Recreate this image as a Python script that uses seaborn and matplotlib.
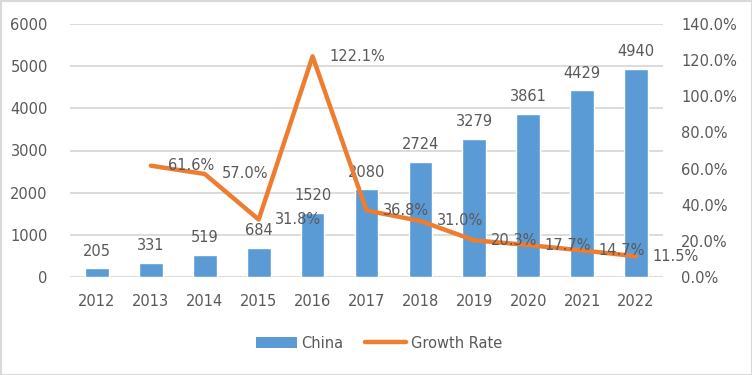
import matplotlib
matplotlib.use("Agg")
import matplotlib.pyplot as plt
import seaborn as sns
import pandas as pd
import numpy as np
from matplotlib.patches import Rectangle, Patch
from matplotlib.lines import Line2D

years = [2012, 2013, 2014, 2015, 2016, 2017, 2018, 2019, 2020, 2021, 2022]
china = [205, 331, 519, 684, 1520, 2080, 2724, 3279, 3861, 4429, 4940]
rate_years = [2013, 2014, 2015, 2016, 2017, 2018, 2019, 2020, 2021, 2022]
growth = [61.6, 57.0, 31.8, 122.1, 36.8, 31.0, 20.3, 17.7, 14.7, 11.5]
left_ticks = [0, 1000, 2000, 3000, 4000, 5000, 6000]
right_ticks = [0, 20, 40, 60, 80, 100, 120, 140]

BAR = "#5B9BD5"
LINE = "#ED7D31"
TXT = "#595959"
GRID = "#D9D9D9"

sns.set_style("white")
plt.rcParams['font.family'] = ['DejaVu Sans']
plt.rcParams['font.size'] = 10

fig = plt.figure(figsize=(7.52, 3.75), dpi=100)
ax = fig.add_axes([70/752, 1-277/375, (663-70)/752, (277-24)/375])

df = pd.DataFrame({"year": years, "China": china})
sns.barplot(data=df, x="year", y="China", native_scale=True, color=BAR,
            width=0.44, saturation=1, ax=ax, zorder=2)
ax.set_xlim(years[0]-0.5, years[-1]+0.5)
ax.set_ylim(0, 6000)
ax.set_yticks(left_ticks)
ax.set_yticklabels([str(t) for t in left_ticks])
ax.set_xticks(years)
ax.set_xticklabels([str(y) for y in years])
ax.grid(axis="y", color=GRID, linewidth=1.3, zorder=0)
ax.set_axisbelow(True)
for s in ax.spines.values():
    s.set_visible(False)
ax.tick_params(axis="both", length=0, colors=TXT, labelsize=10.5)
ax.tick_params(axis="y", pad=16)
ax.tick_params(axis="x", pad=12)
ax.set_xlabel("")
ax.set_ylabel("")
for c in ax.containers:
    ax.bar_label(c, labels=[str(v) for v in china], padding=7, color=TXT, fontsize=10.5)

ax2 = ax.twinx()
dfl = pd.DataFrame({"year": rate_years, "rate": growth})
sns.lineplot(data=dfl, x="year", y="rate", color=LINE, linewidth=3.2, ax=ax2,
             solid_capstyle="round", solid_joinstyle="round", zorder=3)
ax2.set_ylim(0, 140)
ax2.set_yticks(right_ticks)
ax2.set_yticklabels([f"{t:.1f}%" for t in right_ticks])
ax2.set_xlim(years[0]-0.5, years[-1]+0.5)
for s in ax2.spines.values():
    s.set_visible(False)
ax2.tick_params(axis="y", length=0, colors=TXT, labelsize=10.5, pad=13)
ax2.set_xlabel("")
ax2.set_ylabel("")
for x, v in zip(rate_years, growth):
    ax2.annotate(f"{v:.1f}%", (x, v), xytext=(12, 0), textcoords="offset points",
                 ha="left", va="center", color=TXT, fontsize=10.5)

handles = [Patch(facecolor=BAR, edgecolor="none"),
           Line2D([0], [0], color=LINE, linewidth=3.2, solid_capstyle="round")]
fig.legend(handles, ["China", "Growth Rate"], loc="center", bbox_to_anchor=(379/752, 1-343/375),
           ncol=2, frameon=False, fontsize=10.5, labelcolor=TXT, handlelength=2.8,
           handleheight=0.7, columnspacing=1.5, handletextpad=0.3)

fig.add_artist(Rectangle((0.5/752, 0.5/375), 1-1/752, 1-1/375, transform=fig.transFigure,
                         fill=False, edgecolor=GRID, linewidth=1.5))
fig.savefig("out.png", dpi=100)
